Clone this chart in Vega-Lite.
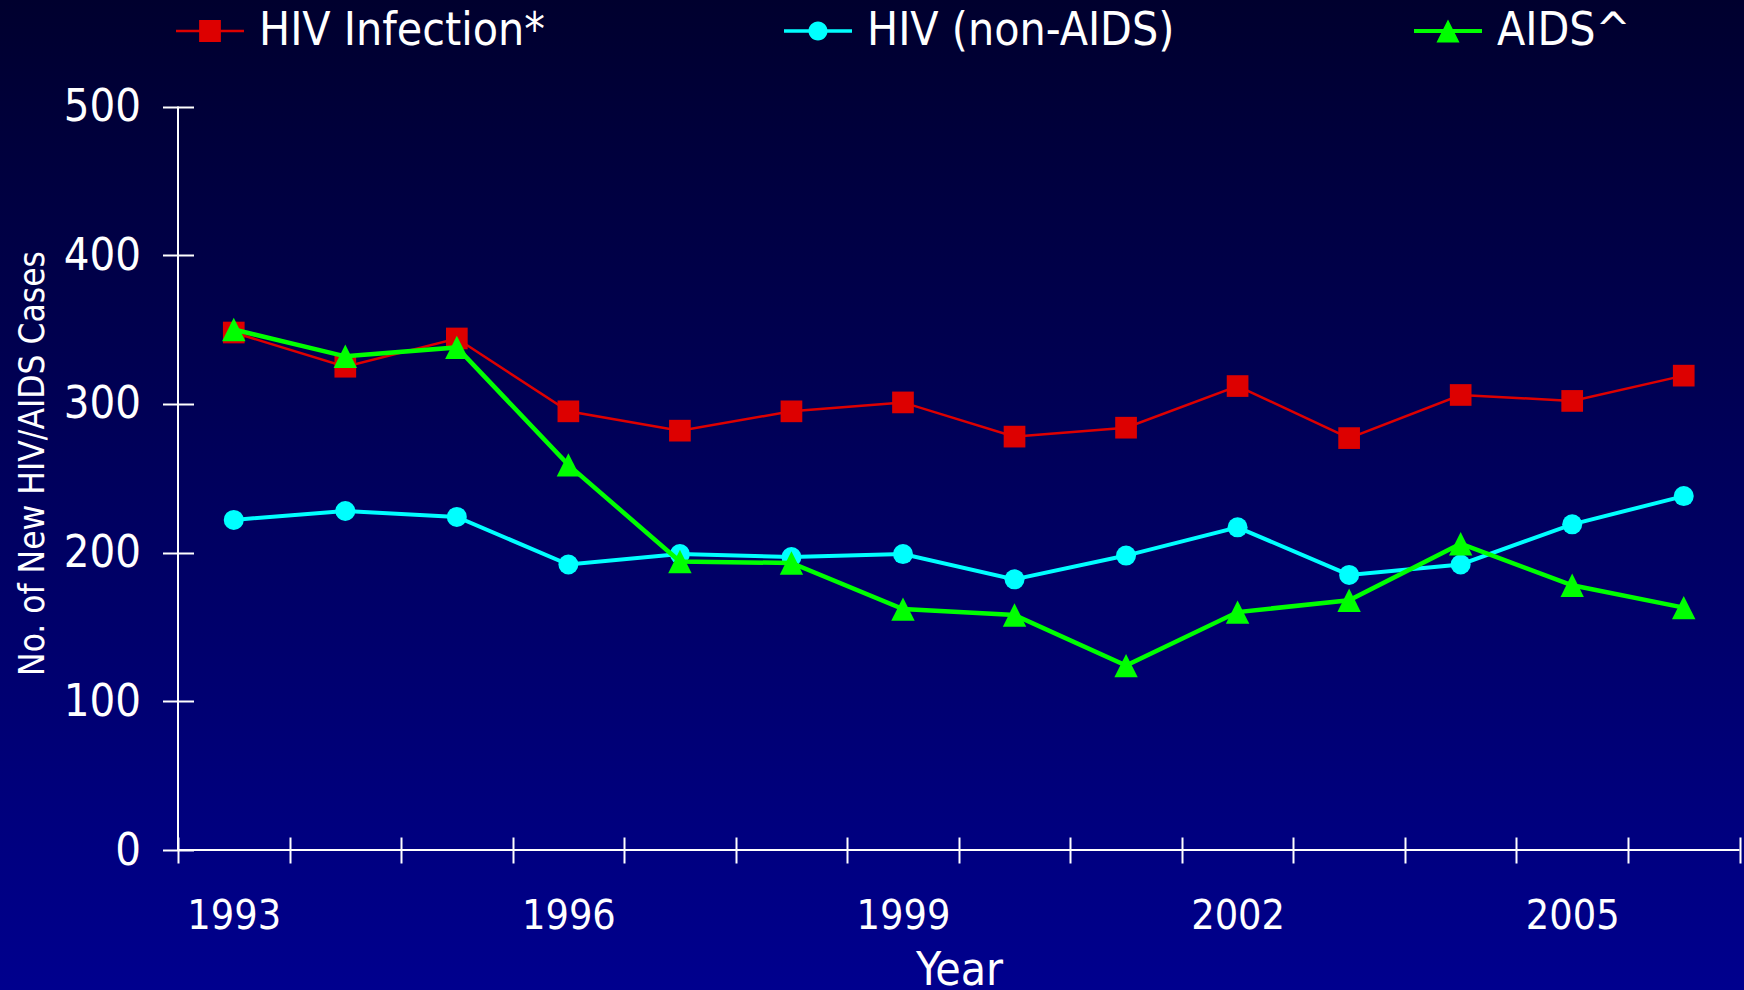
{
  "$schema": "https://vega.github.io/schema/vega-lite/v6.json",
  "width": 1744,
  "height": 990,
  "padding": 0,
  "autosize": {"type": "none"},
  "background": "#000050",
  "config": {"view": {"stroke": null}},
  "data": {
    "values": [
      {"year": "1993", "series": "HIV Infection*", "value": 348},
      {"year": "1994", "series": "HIV Infection*", "value": 325},
      {"year": "1995", "series": "HIV Infection*", "value": 344},
      {"year": "1996", "series": "HIV Infection*", "value": 295},
      {"year": "1997", "series": "HIV Infection*", "value": 282},
      {"year": "1998", "series": "HIV Infection*", "value": 295},
      {"year": "1999", "series": "HIV Infection*", "value": 301},
      {"year": "2000", "series": "HIV Infection*", "value": 278},
      {"year": "2001", "series": "HIV Infection*", "value": 284},
      {"year": "2002", "series": "HIV Infection*", "value": 312},
      {"year": "2003", "series": "HIV Infection*", "value": 277},
      {"year": "2004", "series": "HIV Infection*", "value": 306},
      {"year": "2005", "series": "HIV Infection*", "value": 302},
      {"year": "2006", "series": "HIV Infection*", "value": 319},
      {"year": "1993", "series": "HIV (non-AIDS)", "value": 222},
      {"year": "1994", "series": "HIV (non-AIDS)", "value": 228},
      {"year": "1995", "series": "HIV (non-AIDS)", "value": 224},
      {"year": "1996", "series": "HIV (non-AIDS)", "value": 192},
      {"year": "1997", "series": "HIV (non-AIDS)", "value": 199},
      {"year": "1998", "series": "HIV (non-AIDS)", "value": 197},
      {"year": "1999", "series": "HIV (non-AIDS)", "value": 199},
      {"year": "2000", "series": "HIV (non-AIDS)", "value": 182},
      {"year": "2001", "series": "HIV (non-AIDS)", "value": 198},
      {"year": "2002", "series": "HIV (non-AIDS)", "value": 217},
      {"year": "2003", "series": "HIV (non-AIDS)", "value": 185},
      {"year": "2004", "series": "HIV (non-AIDS)", "value": 192},
      {"year": "2005", "series": "HIV (non-AIDS)", "value": 219},
      {"year": "2006", "series": "HIV (non-AIDS)", "value": 238},
      {"year": "1993", "series": "AIDS^", "value": 350},
      {"year": "1994", "series": "AIDS^", "value": 332},
      {"year": "1995", "series": "AIDS^", "value": 338},
      {"year": "1996", "series": "AIDS^", "value": 259},
      {"year": "1997", "series": "AIDS^", "value": 194},
      {"year": "1998", "series": "AIDS^", "value": 193},
      {"year": "1999", "series": "AIDS^", "value": 162},
      {"year": "2000", "series": "AIDS^", "value": 158},
      {"year": "2001", "series": "AIDS^", "value": 124},
      {"year": "2002", "series": "AIDS^", "value": 160},
      {"year": "2003", "series": "AIDS^", "value": 168},
      {"year": "2004", "series": "AIDS^", "value": 206},
      {"year": "2005", "series": "AIDS^", "value": 178},
      {"year": "2006", "series": "AIDS^", "value": 163}
    ]
  },
  "layer": [
    {
      "transform": [{"filter": "datum.year === '1993' && datum.series === 'AIDS^'"}],
      "mark": {"type": "rect", "color": {"gradient": "linear", "x1": 0, "y1": 0, "x2": 0, "y2": 1, "stops": [{"offset": 0, "color": "#00002E"}, {"offset": 1, "color": "#00008E"}]}},
      "encoding": {}
    },
    {
      "transform": [{"filter": "false"}],
      "mark": {"type": "point", "filled": true, "size": 4624, "opacity": 1, "strokeWidth": 0},
      "encoding": {
        "x": {"field": "year", "type": "ordinal",
          "scale": {"type": "band", "domain": ["1993","1994","1995","1996","1997","1998","1999","2000","2001","2002","2003","2004","2005","2006"], "range": [178, 1739.5], "paddingInner": 0, "paddingOuter": 0},
          "axis": {"title": "Year", "zindex": 1, "orient": "bottom", "offset": -153, "domain": false, "grid": false, "tickBand": "extent", "tickSize": 26, "tickWidth": 2, "tickColor": "#FFFFFF", "labelExpr": "indexof(['1993','1996','1999','2002','2005'], datum.value) >= 0 ? datum.label : ''", "labelAngle": 0, "labelOverlap": false, "labelFont": "DejaVu Sans Condensed, Liberation Sans Narrow, Liberation Sans, sans-serif", "labelFontSize": 41, "labelColor": "#FFFFFF", "labelBaseline": "alphabetic", "labelPadding": 65, "titleFont": "DejaVu Sans Condensed, Liberation Sans Narrow, Liberation Sans, sans-serif", "titleFontSize": 46, "titleFontWeight": "normal", "titleColor": "#FFFFFF", "titleBaseline": "alphabetic", "titleAlign": "center", "titleX": 959, "titleY": 147}},
        "y": {"field": "value", "type": "quantitative",
          "scale": {"type": "linear", "domain": [0, 500], "range": [850, 106.5], "nice": false, "zero": false},
          "axis": {"title": "No. of New HIV/AIDS Cases", "zindex": 1, "orient": "left", "offset": -193.5, "domain": false, "grid": false, "values": [0, 100, 200, 300, 400, 500], "tickSize": 31, "tickWidth": 2, "tickColor": "#FFFFFF", "labelFont": "DejaVu Sans Condensed, Liberation Sans Narrow, Liberation Sans, sans-serif", "labelFontSize": 45, "labelColor": "#FFFFFF", "labelPadding": 22, "labelFlush": false, "titleFont": "DejaVu Sans Condensed, Liberation Sans Narrow, Liberation Sans, sans-serif", "titleFontSize": 35, "titleFontWeight": "normal", "titleColor": "#FFFFFF", "titleAngle": 270, "titleBaseline": "alphabetic", "titleAlign": "center", "titleX": -150.5, "titleY": 463}},
        "color": {"field": "series", "type": "nominal",
          "scale": {"domain": ["HIV Infection*", "HIV (non-AIDS)", "AIDS^"], "range": ["#DD0000", "#00FFFF", "#00FF00"]},
          "legend": {"orient": "none", "legendX": 176, "legendY": -3, "direction": "horizontal", "columns": 3, "title": null, "padding": 0, "labelFont": "DejaVu Sans Condensed, Liberation Sans Narrow, Liberation Sans, sans-serif", "labelFontSize": 46, "labelColor": "#FFFFFF", "labelLimit": 600, "labelOffset": 15, "columnPadding": 239, "symbolSize": 4624, "symbolStrokeWidth": 0, "symbolOpacity": 1, "zindex": 1}},
        "shape": {"field": "series", "type": "nominal",
          "scale": {"domain": ["HIV Infection*", "HIV (non-AIDS)", "AIDS^"], "range": ["M-1,-0.035H1V0.035H-1Z M-0.32,-0.32H0.32V0.32H-0.32Z", "M-1,-0.05H1V0.05H-1Z M0.28,0A0.28,0.28,0,1,1,-0.28,0A0.28,0.28,0,1,1,0.28,0Z", "M-1,-0.06H1V0.06H-1Z M0,-0.34L0.34,0.34H-0.34Z"]},
          "legend": {"orient": "none", "legendX": 176, "legendY": -3, "direction": "horizontal", "columns": 3, "title": null, "padding": 0, "labelFont": "DejaVu Sans Condensed, Liberation Sans Narrow, Liberation Sans, sans-serif", "labelFontSize": 46, "labelColor": "#FFFFFF", "labelLimit": 600, "labelOffset": 15, "columnPadding": 239, "symbolSize": 4624, "symbolStrokeWidth": 0, "symbolOpacity": 1, "zindex": 1}}
      }
    },
    {
      "transform": [{"filter": "datum.year === '1993' && datum.series === 'AIDS^'"}],
      "mark": {"type": "rule", "color": "#FFFFFF", "strokeWidth": 2},
      "encoding": {
        "x": {"datum": "1993", "type": "ordinal", "bandPosition": 0},
        "y": {"datum": 0, "type": "quantitative"},
        "y2": {"datum": 500}
      }
    },
    {
      "transform": [{"filter": "datum.year === '1993' && datum.series === 'AIDS^'"}],
      "mark": {"type": "rule", "color": "#FFFFFF", "strokeWidth": 2},
      "encoding": {
        "x": {"datum": "1993", "type": "ordinal", "bandPosition": 0},
        "x2": {"datum": "2006", "bandPosition": 1},
        "y": {"datum": 0, "type": "quantitative"}
      }
    },
    {
      "transform": [{"filter": "datum.series === 'HIV Infection*'"}],
      "mark": {"type": "line", "strokeWidth": 2.5},
      "encoding": {
        "x": {"field": "year", "type": "ordinal"},
        "y": {"field": "value", "type": "quantitative"},
        "color": {"field": "series", "type": "nominal", "legend": null}
      }
    },
    {
      "transform": [{"filter": "datum.series === 'HIV Infection*'"}],
      "mark": {"type": "point", "shape": "square", "filled": true, "size": 470, "opacity": 1, "strokeWidth": 0},
      "encoding": {
        "x": {"field": "year", "type": "ordinal"},
        "y": {"field": "value", "type": "quantitative"},
        "color": {"field": "series", "type": "nominal", "legend": null}
      }
    },
    {
      "transform": [{"filter": "datum.series === 'HIV (non-AIDS)'"}],
      "mark": {"type": "line", "strokeWidth": 4},
      "encoding": {
        "x": {"field": "year", "type": "ordinal"},
        "y": {"field": "value", "type": "quantitative"},
        "color": {"field": "series", "type": "nominal", "legend": null}
      }
    },
    {
      "transform": [{"filter": "datum.series === 'HIV (non-AIDS)'"}],
      "mark": {"type": "point", "shape": "circle", "filled": true, "size": 400, "opacity": 1, "strokeWidth": 0},
      "encoding": {
        "x": {"field": "year", "type": "ordinal"},
        "y": {"field": "value", "type": "quantitative"},
        "color": {"field": "series", "type": "nominal", "legend": null}
      }
    },
    {
      "transform": [{"filter": "datum.series === 'AIDS^'"}],
      "mark": {"type": "line", "strokeWidth": 4.5},
      "encoding": {
        "x": {"field": "year", "type": "ordinal"},
        "y": {"field": "value", "type": "quantitative"},
        "color": {"field": "series", "type": "nominal", "legend": null}
      }
    },
    {
      "transform": [{"filter": "datum.series === 'AIDS^'"}],
      "mark": {"type": "point", "shape": "M0,-1L1,1L-1,1Z", "filled": true, "size": 548, "opacity": 1, "strokeWidth": 0},
      "encoding": {
        "x": {"field": "year", "type": "ordinal"},
        "y": {"field": "value", "type": "quantitative"},
        "color": {"field": "series", "type": "nominal", "legend": null}
      }
    }
  ]
}
